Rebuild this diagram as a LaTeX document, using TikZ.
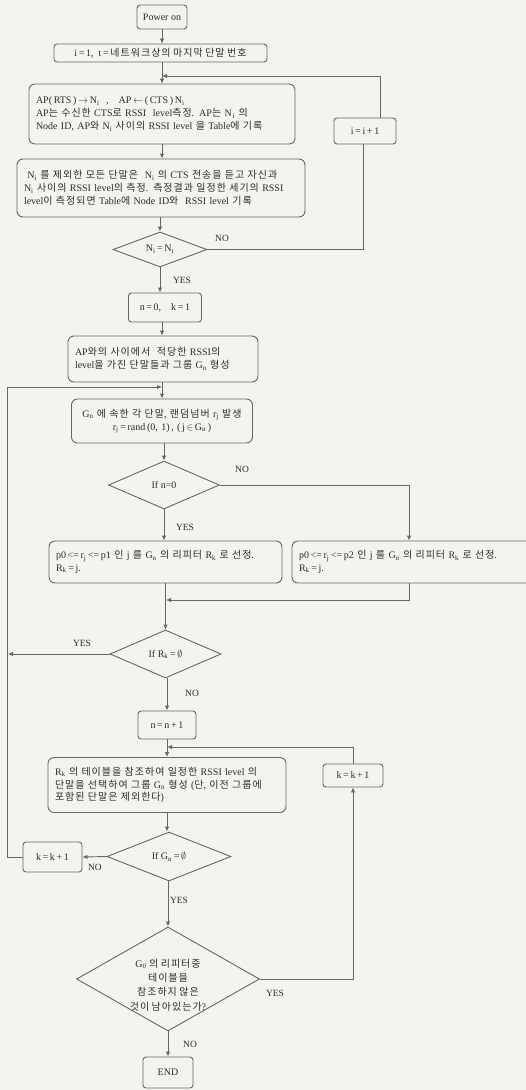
\documentclass[tikz,border=0pt]{standalone}
\usepackage{fontspec}
\setmainfont{Liberation Serif}
\newfontfamily\krfont[LetterSpace=10]{Noto Sans CJK KR}
\usetikzlibrary{arrows.meta,shapes.geometric,calc}
\XeTeXinterchartokenstate=1
\newXeTeXintercharclass\krcls
\count255="AC00
\loop\ifnum\count255<"D7A4 \XeTeXcharclass\count255=\krcls \advance\count255 by 1 \repeat
\XeTeXinterchartoks 0 \krcls={\krfont}
\XeTeXinterchartoks 4095 \krcls={\krfont}
\XeTeXinterchartoks \krcls 0={\rmfamily}
\XeTeXinterchartoks \krcls 4095={\rmfamily}
\definecolor{bg}{HTML}{F4F3EF}
\definecolor{lc}{HTML}{666666}
\definecolor{tc}{HTML}{2C2C2C}
\tikzset{
  box/.style={draw=lc, line width=0.9pt, rounded corners=3pt, fill=bg, inner sep=0pt,
    font=\fontsize{10}{12.8}\selectfont, text=tc},
  bigbox/.style={box, rounded corners=6pt, inner xsep=7pt, align=left},
  dia/.style={draw=lc, line width=0.9pt, diamond, fill=bg, inner sep=0pt},
  dtext/.style={font=\fontsize{10}{12.8}\selectfont, text=tc, align=center, inner sep=0pt},
  lbl/.style={font=\fontsize{9.5}{11}\selectfont, text=tc, inner sep=0pt},
  conn/.style={draw=lc, line width=0.9pt},
  arr/.style={conn, -{Latex[length=5pt,width=4.5pt]}},
}
\begin{document}
\begin{tikzpicture}[x=1pt,y=-1pt]
\fill[bg] (0,0) rectangle (526,1090);
\useasboundingbox (0,0) rectangle (526,1090);

% nodes
\node[box, minimum width=50pt, minimum height=24pt] (pow) at (162,17) {Power on};
\node[box, minimum width=213pt, minimum height=18pt] (init) at (160.5,53) {i\,=\,1,\ \ t\,=\,네트워크상의 마지막 단말 번호};
\node[bigbox, text width=252pt, minimum height=60pt] (ap) at (162,114) {AP(\,RTS\,)\,$\rightarrow$\,N\textsubscript{i}\ \ ,\quad AP\,$\leftarrow$\,(\,CTS\,)\,N\textsubscript{i}\\AP는 수신한 CTS로 RSSI\ \ level측정. AP는 N\textsubscript{\,i} 의\\Node ID, AP와 N\textsubscript{i} 사이의 RSSI level 을 Table에 기록};
\node[box, minimum width=62pt, minimum height=26pt] (inc) at (365,131) {i\,=\,i\,+\,1};
\node[bigbox, text width=274pt, minimum height=58pt] (all) at (161,188) {\ N\textsubscript{i} 를 제외한 모든 단말은\ \ N\textsubscript{i} 의 CTS 전송을 듣고 자신과\\N\textsubscript{i} 사이의 RSSI level의 측정. 측정결과 일정한 세기의 RSSI\\level이 측정되면 Table에 Node ID와\ \ RSSI level 기록};
\node[dia, minimum width=94pt, minimum height=35pt] (d1) at (160,249.5) {};
\node[dtext] (d1t) at (d1) {N\textsubscript{i}\,=\,N\textsubscript{t}};
\node[box, minimum width=73pt, minimum height=29pt] (nk) at (165,307.5) {n\,=\,0,\quad k\,=\,1};
\node[bigbox, text width=176pt, minimum height=46pt] (grp) at (163,359) {AP와의 사이에서\ \ 적당한 RSSI의\\level을 가진 단말들과 그룹 G\textsubscript{n} 형성};
\node[box, rounded corners=6pt, align=center, text width=181pt, minimum height=44pt] (gn) at (162,421) {G\textsubscript{n} 에 속한 각 단말, 랜덤넘버 r\textsubscript{j} 발생\\r\textsubscript{j}\,=\,rand\,(0, 1)\,,\ (\,j\,$\in$\,G\textsubscript{n}\,)};
\node[dia, minimum width=111pt, minimum height=48pt] (d2) at (164,485) {};
\node[dtext] (d2t) at (d2) {If n=0};
\node[bigbox, text width=219pt, minimum height=42pt] (L) at (165.5,562) {p0\,<=\,r\textsubscript{j}\,<=\,p1 인 j 를 G\textsubscript{n} 의 리피터 R\textsubscript{k} 로 선정.\\R\textsubscript{k}\,=\,j.};
\node[bigbox, text width=226pt, minimum height=42pt] (R) at (412,562) {p0\,<=\,r\textsubscript{j}\,<=\,p2 인 j 를 G\textsubscript{n} 의 리피터 R\textsubscript{k} 로 선정.\\R\textsubscript{k}\,=\,j.};
\node[dia, minimum width=111pt, minimum height=48pt] (d3) at (165.5,654) {};
\node[dtext] (d3t) at (d3) {If R\textsubscript{k}\,=\,$\emptyset$};
\node[box, minimum width=58pt, minimum height=28pt] (ninc) at (167,725) {n\,=\,n\,+\,1};
\node[bigbox, text width=224pt, minimum height=55pt] (tab) at (167,785) {R\textsubscript{k} 의 테이블을 참조하여 일정한 RSSI level 의\\단말을 선택하여 그룹 G\textsubscript{n} 형성 (단, 이전 그룹에\\포함된 단말은 제외한다)};
\node[box, minimum width=60pt, minimum height=23pt] (kR) at (353,775.5) {k\,=\,k\,+\,1};
\node[dia, minimum width=124pt, minimum height=49pt] (d4) at (169,856.5) {};
\node[dtext] (d4t) at (d4) {If G\textsubscript{n}\,=\,$\emptyset$};
\node[box, minimum width=59pt, minimum height=30pt] (kL) at (52.5,857) {k\,=\,k\,+\,1};
\node[dia, minimum width=183pt, minimum height=104pt] (d5) at (168,979) {};
\node[dtext, font=\fontsize{10}{14.2}\selectfont] (d5t) at (168,985) {G\textsubscript{0} 의 리피터중\\테이블을\\참조하지 않은\\것이 남아있는가?};
\node[box, minimum width=50pt, minimum height=31pt] (endn) at (168,1072.5) {END};

% coordinates
\coordinate (j1) at (162,76);
\coordinate (j2) at (162,387);
\coordinate (lft) at (7,387);
\coordinate (j3) at (166,600);
\coordinate (j4) at (8,654);
\coordinate (j5) at (167,747);

% connectors
\draw[arr] (pow.south) -- (pow.south |- init.north);
\draw[arr] (init.south -| 162,0) -- (ap.north -| 162,0);
\draw[conn] (d1.east) -| ([xshift=-2pt]inc.south);
\draw[arr] ([xshift=15pt]inc.north) |- (j1);
\draw[arr] (ap.south -| 162,0) -- (all.north -| 162,0);
\draw[arr] (all.south -| 160,0) -- (d1.north);
\draw[arr] (d1.south) -- (d1.south |- nk.north);
\draw[arr] (nk.south -| 162,0) -- (grp.north -| 162,0);
\draw[arr] (grp.south -| 162,0) -- (gn.north -| 162,0);
\draw[arr] (kL.west) -| (lft) -- (j2);
\draw[arr] (gn.south -| 164,0) -- (d2.north);
\draw[arr] (d2.south) -- (d2.south |- L.north);
\draw[arr] (d2.east) -| ([xshift=-3pt]R.north);
\draw[arr] (L.south -| 165.5,0) -- (d3.north);
\draw[arr] ([xshift=-3pt]R.south) |- (j3);
\draw[arr] (d3.west) -- (j4);
\draw[arr] (d3.south -| 167,0) -- (ninc.north -| 167,0);
\draw[arr] (ninc.south -| 167,0) -- (tab.north -| 167,0);
\draw[arr] (kR.north) |- (j5);
\draw[arr] (tab.south -| 167,0) -- (d4.north -| 167,0);
\draw[arr] (d4.west) -- (kL.east);
\draw[arr] (d4.south -| 168,0) -- (d5.north);
\draw[arr] (d5.east) -| (kR.south);
\draw[arr] (d5.south) -- (endn.north);

% labels
\node[lbl] (l1) at (222,238) {NO};
\node[lbl] (l2) at (182,280) {YES};
\node[lbl] (l3) at (242,469) {NO};
\node[lbl] (l4) at (185,527) {YES};
\node[lbl] (l5) at (82,643) {YES};
\node[lbl] (l6) at (192,693) {NO};
\node[lbl] (l7) at (95,867) {NO};
\node[lbl] (l8) at (179,900) {YES};
\node[lbl] (l9) at (275,993) {YES};
\node[lbl] (l10) at (190,1044) {NO};
\end{tikzpicture}
\end{document}
